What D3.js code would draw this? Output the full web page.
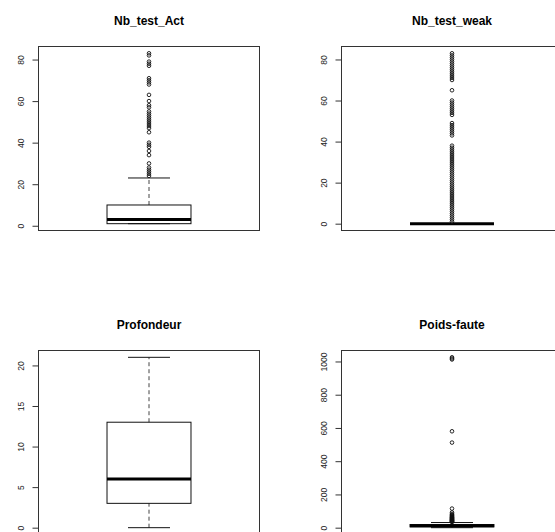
<html>
<head>
<meta charset="utf-8">
<title>Boxplots</title>
<style>
  body { margin: 0; background: #fff; }
  text { font-family: Arial, "Liberation Sans", sans-serif; }
</style>
</head>
<body>
<div id="chart"></div>
<script src="https://d3js.org/d3.v7.min.js"></script>
<script>
// titles of the four boxplots
var titles = ["Nb_test_Act", "Nb_test_weak", "Profondeur", "Poids-faute"];

// [lower whisker, Q1, median, Q3, upper whisker]
var statsAct   = [1, 1, 3, 10, 23];
var statsWeak  = [0, 0, 0, 0, 0];
var statsProf  = [0, 3, 6, 13, 21];
var statsPoids = [0, 5, 12, 19, 31];

// outliers
var outAct = [24, 25, 26, 27, 28, 30, 34, 36, 38, 39, 40, 45, 47, 48, 49, 50, 51, 52,
              53, 54, 55, 57, 58, 60, 63, 68, 69, 70, 71, 77, 78, 79, 82, 83];
var outWeak = [1, 2, 3, 4, 5, 6, 7, 8, 9, 10, 11, 12, 13, 14, 15, 16, 17, 18, 19, 20,
               21, 22, 23, 24, 25, 26, 27, 28, 29, 30, 31, 32, 33, 34, 35, 36, 37, 38,
               43, 44, 45, 46, 47, 48, 49, 53, 54, 55, 56, 57, 58, 59, 60, 65,
               70, 71, 72, 73, 74, 75, 76, 77, 78, 79, 80, 81, 82, 83];
var outProf = [];
var outPoids = [34, 36, 38, 40, 42, 44, 46, 48, 50, 53, 55, 58, 60, 63, 66, 70, 74,
                78, 83, 92, 115, 512, 580, 1012, 1018, 1025];

// y tick labels
var ticksAct   = [0, 20, 40, 60, 80];
var ticksWeak  = [0, 20, 40, 60, 80];
var ticksProf  = [0, 5, 10, 15, 20];
var ticksPoids = [0, 200, 400, 600, 800, 1000];

var width = 555,
    height = 532;

var svg = d3.select("#chart")
            .append("svg")
            .attr("width", width)
            .attr("height", height);

svg.append("rect").attr("width", width).attr("height", height).attr("fill", "#fff");

// plot frames (R mfrow 2x2, right column cut off by the window)
var colLeft = [38.5, 341.5],
    rowTop = [46.5, 350.5],
    plotW = 221,
    plotH = 184;

var panels = [
  {title: titles[0], stats: statsAct,   out: outAct,   ticks: ticksAct,   col: 0, row: 0},
  {title: titles[1], stats: statsWeak,  out: outWeak,  ticks: ticksWeak,  col: 1, row: 0},
  {title: titles[2], stats: statsProf,  out: outProf,  ticks: ticksProf,  col: 0, row: 1},
  {title: titles[3], stats: statsPoids, out: outPoids, ticks: ticksPoids, col: 1, row: 1}
];

panels.forEach(drawPanel);

function drawPanel(p) {
    var x0 = colLeft[p.col],
        y0 = rowTop[p.row];

    // R extends the data range by 4% on each side
    var ext = d3.extent(p.stats.concat(p.out));
    var pad = (ext[1] - ext[0]) * 0.04;

    var y = d3.scaleLinear()
              .domain([ext[0] - pad, ext[1] + pad])
              .range([y0 + plotH, y0]);

    var x = d3.scaleLinear()
              .domain([0.5, 1.5])
              .range([x0, x0 + plotW]);

    var g = svg.append("g");

    var cx = x(1),
        half = x(1.19) - x(1),
        capHalf = half / 2;

    var s = p.stats;

    // whiskers
    g.selectAll(".whisker")
     .data([[s[0], s[1]], [s[3], s[4]]])
     .enter().append("line")
     .attr("x1", cx).attr("x2", cx)
     .attr("y1", function(d){ return y(d[0]); })
     .attr("y2", function(d){ return y(d[1]); })
     .attr("stroke", "#444")
     .attr("stroke-dasharray", "4,3");

    // staples
    g.selectAll(".staple")
     .data([s[0], s[4]])
     .enter().append("line")
     .attr("x1", cx - capHalf).attr("x2", cx + capHalf)
     .attr("y1", function(d){ return y(d); })
     .attr("y2", function(d){ return y(d); })
     .attr("stroke", "#111");

    // box
    g.append("rect")
     .attr("x", cx - half)
     .attr("y", y(s[3]))
     .attr("width", half * 2)
     .attr("height", Math.max(0, y(s[1]) - y(s[3])))
     .attr("fill", "none")
     .attr("stroke", "#111");

    // median
    g.append("line")
     .attr("x1", cx - half).attr("x2", cx + half)
     .attr("y1", y(s[2])).attr("y2", y(s[2]))
     .attr("stroke", "#000")
     .attr("stroke-width", 3);

    // outliers
    g.selectAll(".outlier")
     .data(p.out)
     .enter().append("circle")
     .attr("cx", cx)
     .attr("cy", function(d){ return y(d); })
     .attr("r", 1.8)
     .attr("fill", "none")
     .attr("stroke", "#111")
     .attr("stroke-width", 0.9);

    // frame
    g.append("rect")
     .attr("x", x0).attr("y", y0)
     .attr("width", plotW).attr("height", plotH)
     .attr("fill", "none")
     .attr("stroke", "#333");

    // y axis
    var axis = g.append("g")
      .attr("transform", "translate(" + x0 + ",0)")
      .attr("color", "#333")
      .call(d3.axisLeft(y).tickValues(p.ticks).tickSize(6).tickFormat(d3.format("d")));

    axis.select(".domain").remove();

    axis.selectAll(".tick text")
        .attr("x", 0)
        .attr("dy", "0.35em")
        .attr("transform", "translate(-17,0) rotate(-90)")
        .attr("text-anchor", "middle")
        .attr("fill", "#222")
        .style("font-size", "8.5px")
        .style("font-family", "Arial, 'Liberation Sans', sans-serif");

    // title
    g.append("text")
     .attr("x", cx)
     .attr("y", y0 - 22)
     .attr("text-anchor", "middle")
     .style("font-size", "12px")
     .style("font-weight", "bold")
     .text(p.title);
}
</script>
</body>
</html>
